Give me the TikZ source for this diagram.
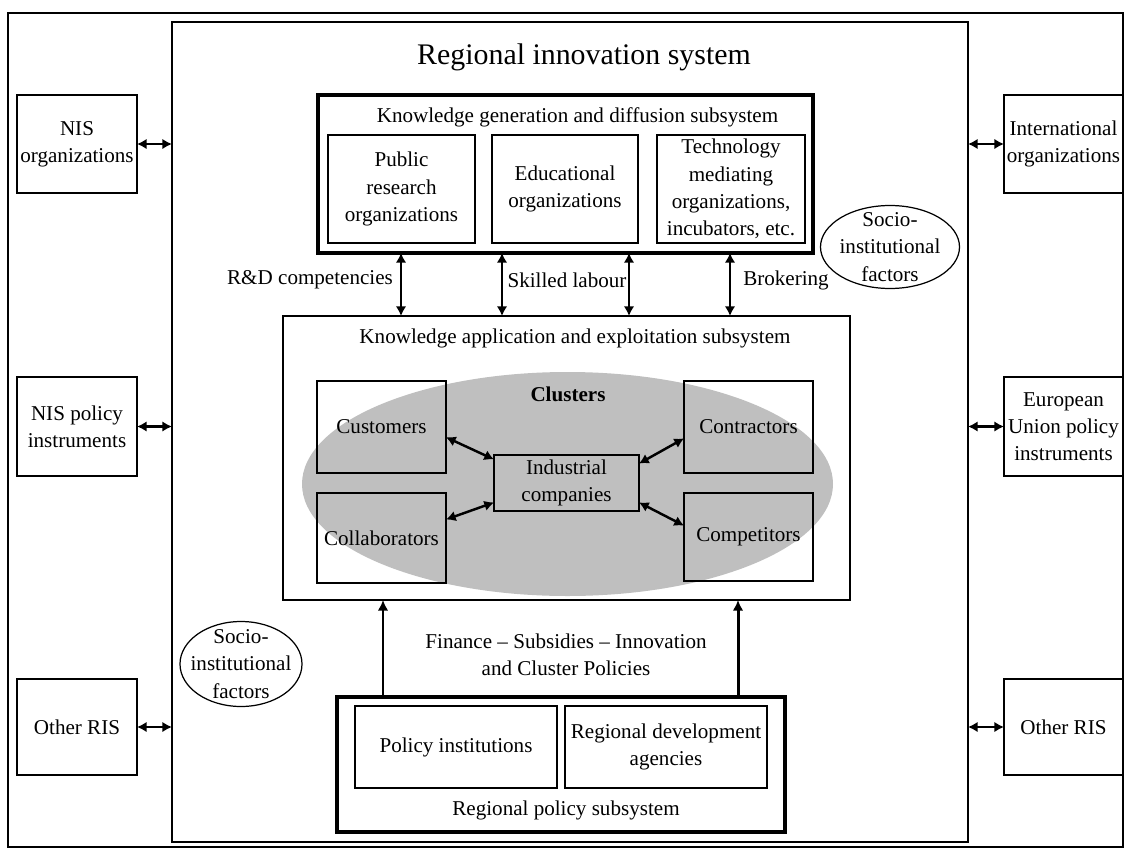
\documentclass[tikz,border=0pt]{standalone}
\usepackage{fontspec}
\setmainfont{Liberation Serif}
\usepackage{tikz}
\usetikzlibrary{arrows.meta,shapes.geometric}
\newcommand{\ristext}{\fontsize{12}{15.5}\selectfont}
\newcommand{\ristitle}{\fontsize{17}{20}\selectfont}
\definecolor{clustergray}{gray}{0.75}

\begin{document}
\begin{tikzpicture}
          \tikzset{box/.style = {
              draw,
              line width = 0.8pt,
              align = center,
              inner sep = 1pt,
              outer sep = 0pt,
              font = \ristext}}
          \tikzset{sidebox/.style = {box, minimum width = 2.4cm}}
          \tikzset{cbox/.style = {box, minimum width = 2.58cm}}
          \tikzset{subsys/.style = {draw, line width = 2pt, outer sep = 0pt}}
          \tikzset{socio/.style = {ellipse, draw, line width = 0.7pt, inner sep = 0pt}}
          \tikzset{lbl/.style = {font = \ristext, align = center, inner sep = 1pt}}
          \tikzset{biarr/.style = {{Latex[length=5.5pt,width=6pt]}-{Latex[length=5.5pt,width=6pt]}, line width = 1.6pt}}
          \tikzset{uparr/.style = {-{Latex[length=6pt,width=6pt]}, line width = 1.7pt}}
          \useasboundingbox (0,0) rectangle (22.54,-17);
          \draw[line width=0.8pt] (0.16,-0.26) rectangle (22.46,-16.94);
          \node[draw, line width=1pt, outer sep=0pt, minimum width=15.92cm, minimum height=16.4cm] (ris) at (11.40,-8.64) {};
          \node[font=\ristitle] (ristitletext) at (11.68,-1.14) {Regional innovation system};
          %% outside the region
          \node[sidebox, minimum height=1.96cm] (nisorg) at (1.54,-2.88) {NIS\\organizations};
          \node[sidebox, minimum height=1.98cm] (nispol) at (1.54,-8.53) {NIS policy\\instruments};
          \node[sidebox, minimum height=1.92cm] (risleft) at (1.54,-14.54) {Other RIS};
          \node[box, minimum width=2.38cm, minimum height=1.96cm] (intorg) at (21.27,-2.88) {International\\organizations};
          \node[box, minimum width=2.38cm, minimum height=1.98cm] (eupol) at (21.27,-8.53) {European\\Union policy\\instruments};
          \node[box, minimum width=2.38cm, minimum height=1.92cm] (risright) at (21.27,-14.54) {Other RIS};
          \foreach \n in {nisorg,nispol,risleft}{\draw[biarr] (\n.east) -- (\n.east -| ris.west);}
          \foreach \n in {intorg,eupol,risright}{\draw[biarr] (\n.west) -- (\n.west -| ris.east);}
          %% knowledge generation
          \node[subsys, minimum width=9.9cm, minimum height=3.16cm] (kgen) at (11.31,-3.48) {};
          \node[lbl] (kgentitle) at (11.55,-2.34) {Knowledge generation and diffusion subsystem};
          \node[box, minimum width=2.94cm, minimum height=2.16cm] (pro) at (8.03,-3.78) {Public\\research\\organizations};
          \node[box, minimum width=2.92cm, minimum height=2.16cm] (edu) at (11.30,-3.78) {Educational\\organizations};
          \node[box, minimum width=2.96cm, minimum height=2.16cm] (tech) at (14.62,-3.78) {Technology\\mediating\\organizations,\\incubators, etc.};
          \node[socio, minimum width=2.78cm, minimum height=1.66cm] (sociort) at (17.80,-4.94) {};
          \node[lbl] (sociorttext) at (sociort) {Socio-\\institutional\\factors};
          \node[socio, minimum width=2.44cm, minimum height=1.70cm] (sociolt) at (4.82,-13.28) {};
          \node[lbl] (socioltext) at (sociolt) {Socio-\\institutional\\factors};
          %% knowledge application
          \node[draw, line width=1.2pt, outer sep=0pt, minimum width=11.34cm, minimum height=5.68cm] (kapp) at (11.33,-9.16) {};
          \node[lbl] (kapptitle) at (11.5,-6.76) {Knowledge application and exploitation subsystem};
          \node[ellipse, fill=clustergray, inner sep=0pt, minimum width=10.62cm, minimum height=4.48cm] (clusters) at (11.35,-9.68) {};
          \node[lbl, font=\ristext\bfseries] (clusterstitle) at (11.36,-7.88) {Clusters};
          \node[cbox, minimum height=1.84cm] (cust) at (7.63,-8.54) {Customers};
          \node[cbox, minimum height=1.80cm] (coll) at (7.63,-10.76) {Collaborators};
          \node[cbox, minimum height=1.84cm] (cont) at (14.97,-8.54) {Contractors};
          \node[cbox, minimum height=1.76cm] (comp) at (14.97,-10.74) {Competitors};
          \node[box, minimum width=2.90cm, minimum height=1.12cm] (ind) at (11.33,-9.66) {Industrial\\companies};
          \draw[biarr, line width=1.4pt] (cust.-9) -- (ind.162);
          \draw[biarr, line width=1.4pt] (coll.16) -- (ind.195);
          \draw[biarr, line width=1.4pt] (cont.190) -- (ind.15);
          \draw[biarr, line width=1.4pt] (comp.170) -- (ind.-15);
          \foreach \x in {8.02,10.04,12.58,14.60}{\draw[biarr] (kgen.south -| \x,0) -- (kapp.north -| \x,0);}
          \node[lbl, anchor=east] (rdlabel) at (7.90,-5.60) {R\&D competencies};
          \node[lbl] (skilllabel) at (11.34,-5.60) {Skilled labour};
          \node[lbl] (brokerlabel) at (15.72,-5.60) {Brokering};
          %% regional policy
          \node[subsys, minimum width=8.96cm, minimum height=2.70cm] (kpol) at (11.22,-15.29) {};
          \node[box, minimum width=4.04cm, minimum height=1.64cm] (pins) at (9.12,-14.94) {Policy institutions};
          \node[box, minimum width=4.04cm, minimum height=1.64cm] (rda) at (13.32,-14.94) {Regional development\\agencies};
          \node[lbl] (kpoltitle) at (11.32,-16.20) {Regional policy subsystem};
          \foreach \x in {7.66,14.76}{\draw[uparr] (kpol.north -| \x,0) -- (kapp.south -| \x,0);}
          \node[lbl] (finance) at (11.32,-13.10) {Finance – Subsidies – Innovation\\and Cluster Policies};
\end{tikzpicture}
\end{document}
